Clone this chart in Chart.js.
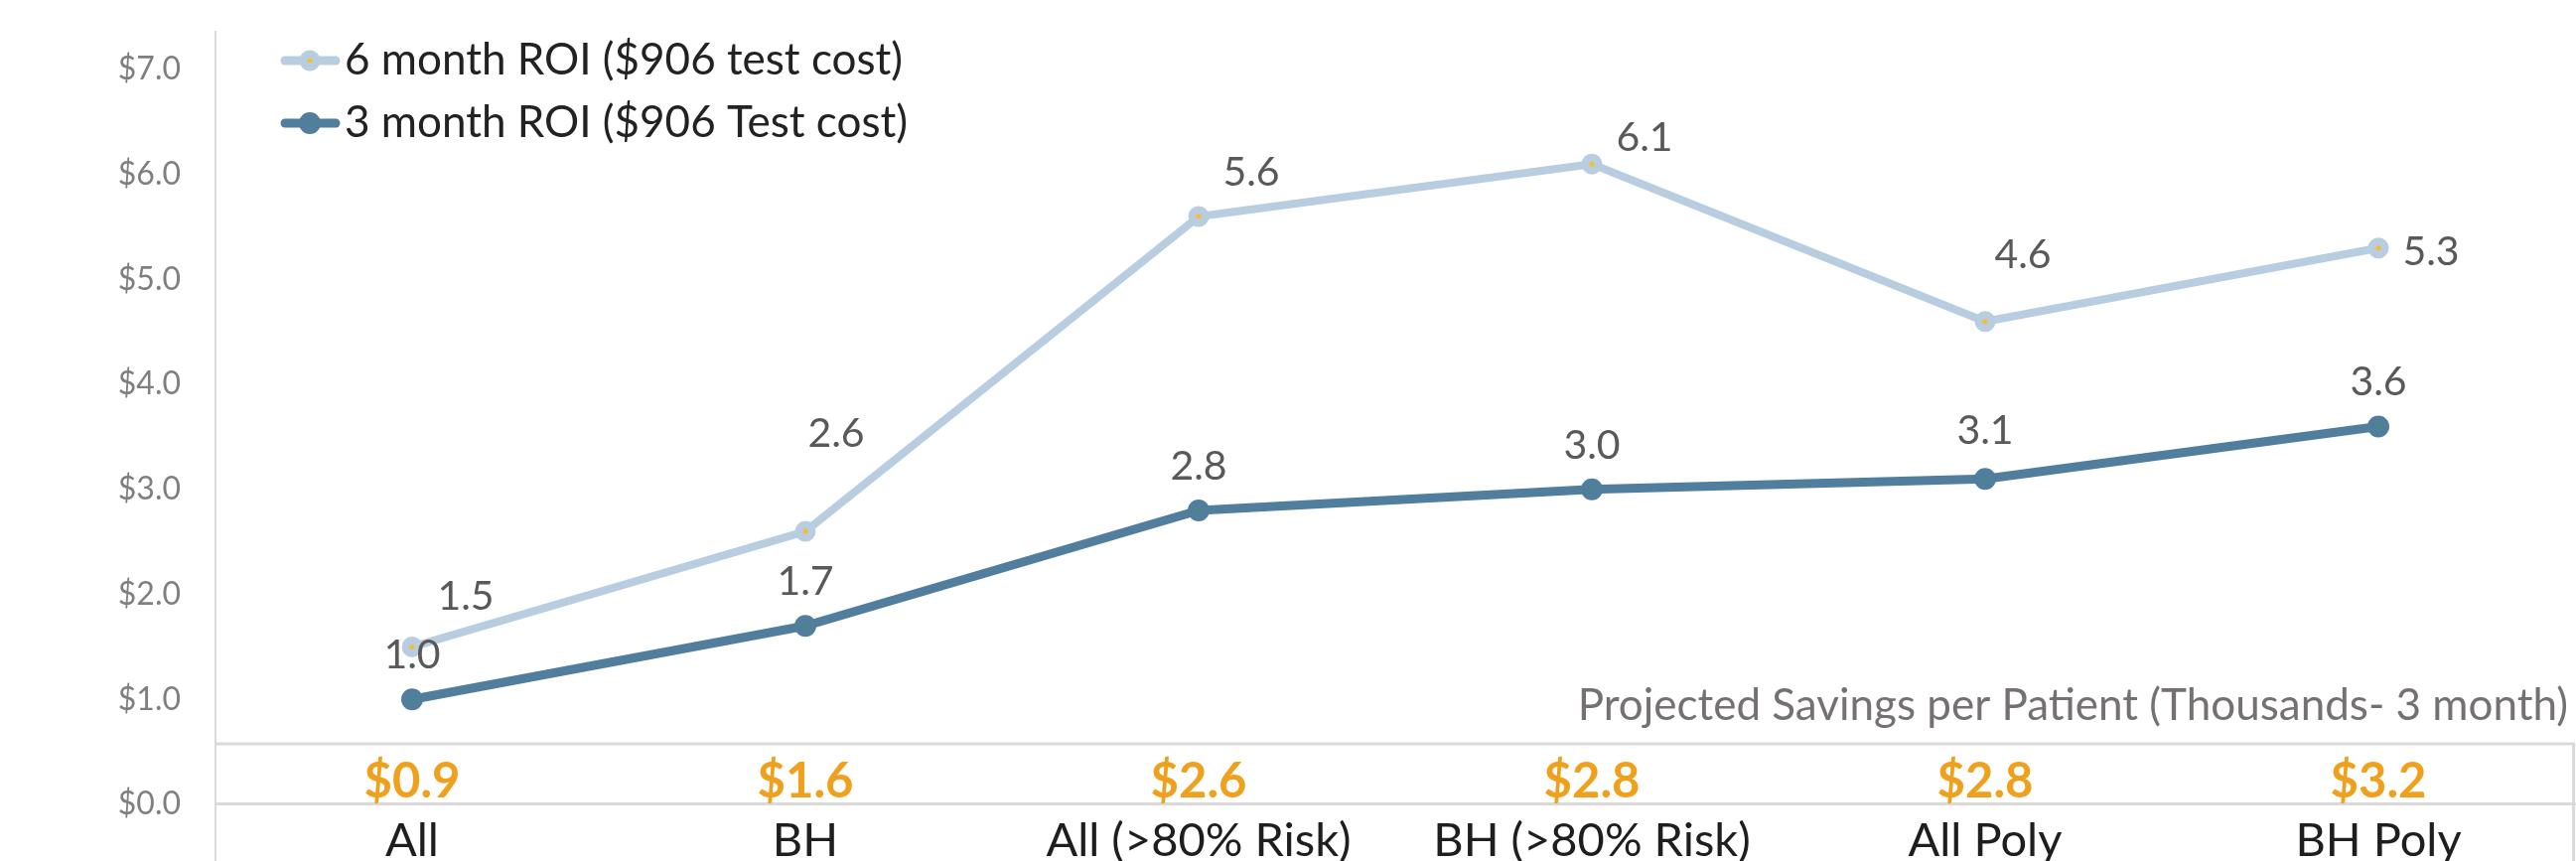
<!DOCTYPE html>
<html>
<head>
<meta charset="utf-8">
<script src="https://cdn.jsdelivr.net/npm/chart.js@4.4.1/dist/chart.umd.min.js"></script>
<style>
  html, body { margin: 0; padding: 0; background: #fff; overflow: hidden; }
  #wrap { width: 2594px; height: 867px; }
</style>
</head>
<body>
<div id="wrap"><canvas id="roi-chart" width="2594" height="867"></canvas></div>
<script>
var categories = ['All', 'BH', 'All (>80% Risk)', 'BH (>80% Risk)', 'All Poly', 'BH Poly'];
var roi6Month = [1.5, 2.6, 5.6, 6.1, 4.6, 5.3];
var roi3Month = [1.0, 1.7, 2.8, 3.0, 3.1, 3.6];
var savings3Month = [0.9, 1.6, 2.6, 2.8, 2.8, 3.2];
var yTicks = [0, 1, 2, 3, 4, 5, 6, 7];
var seriesNames = ['6 month ROI ($906 test cost)', '3 month ROI ($906 Test cost)'];
var savingsTitle = 'Projected Savings per Patient (Thousands- 3 month)';

// label nudges (the original labels were placed by hand)
var labelShift = [
  [[54, -52], [31, -100], [53, -46], [53, -28], [38, -69], [53, 2]],
  [[0, -46], [0, -46], [0, -46], [0, -46], [0, -50], [0, -46]]
];

var FONT = 'Lato';

/// PLUGIN: labels, savings row, legend ///

var extras = {
  id: 'extras',
  afterDraw: function(chart) {
    var ctx = chart.ctx;
    var xs = chart.scales.x;
    var ys = chart.scales.y;
    var area = chart.chartArea;
    var y0 = ys.getPixelForValue(0);

    ctx.save();

    // savings table lines
    ctx.strokeStyle = '#D9D9D9';
    ctx.lineWidth = 3;
    ctx.beginPath();
    ctx.moveTo(area.left, y0 - 61);
    ctx.lineTo(area.right, y0 - 61);
    ctx.moveTo(area.right - 1.5, y0 - 61);
    ctx.lineTo(area.right - 1.5, chart.height);
    ctx.stroke();

    // savings title
    ctx.fillStyle = '#767171';
    ctx.font = '44px ' + FONT;
    ctx.textAlign = 'right';
    ctx.textBaseline = 'alphabetic';
    ctx.fillText(savingsTitle, area.right - 7, y0 - 85);

    // savings values
    ctx.fillStyle = '#EFA11D';
    ctx.font = 'bold 49px ' + FONT;
    ctx.textAlign = 'center';
    savings3Month.forEach(function(v, i) {
      ctx.fillText('$' + v.toFixed(1), xs.getPixelForValue(i), y0 - 7);
    });

    // point labels
    ctx.fillStyle = '#595959';
    ctx.font = '41px ' + FONT;
    chart.data.datasets.forEach(function(ds, di) {
      var meta = chart.getDatasetMeta(di);
      meta.data.forEach(function(pt, i) {
        var sh = labelShift[di][i];
        ctx.fillText(ds.data[i].toFixed(1), pt.x + sh[0], pt.y + sh[1] + 15);
      });
    });

    // legend
    var rows = [75, 138];
    chart.data.datasets.forEach(function(ds, di) {
      var base = rows[di];
      var cy = base - 14;
      ctx.strokeStyle = ds.borderColor;
      ctx.lineWidth = 9;
      ctx.lineCap = 'round';
      ctx.beginPath();
      ctx.moveTo(287, cy);
      ctx.lineTo(338, cy);
      ctx.stroke();
      ctx.beginPath();
      ctx.arc(312, cy, ds.pointRadius, 0, Math.PI * 2);
      ctx.fillStyle = ds.pointBackgroundColor;
      ctx.fill();
      ctx.lineWidth = ds.pointBorderWidth;
      ctx.strokeStyle = ds.pointBorderColor;
      ctx.stroke();
      ctx.fillStyle = '#222222';
      ctx.font = '44px ' + FONT;
      ctx.textAlign = 'left';
      ctx.fillText(ds.label, 347, base);
    });

    ctx.restore();
  }
};

/// CHART ///

var ctx = document.getElementById('roi-chart').getContext('2d');
var roiChart = new Chart(ctx, {
  type: 'line',
  data: {
    labels: categories,
    datasets: [
      {
        label: seriesNames[0],
        data: roi6Month,
        borderColor: '#B9CDE0',
        borderWidth: 8,
        pointRadius: 6.5,
        pointBorderWidth: 8,
        pointBackgroundColor: '#F6BE2C',
        pointBorderColor: '#B9CDE0',
        borderJoinStyle: 'round',
        tension: 0
      },
      {
        label: seriesNames[1],
        data: roi3Month,
        borderColor: '#517E9C',
        borderWidth: 9,
        pointRadius: 6.5,
        pointBorderWidth: 9,
        pointBackgroundColor: '#3F8F76',
        pointBorderColor: '#517E9C',
        borderJoinStyle: 'round',
        tension: 0
      }
    ]
  },
  options: {
    responsive: false,
    animation: false,
    layout: {
      autoPadding: false,
      padding: { top: 32, right: 1, bottom: 0, left: 0 }
    },
    plugins: {
      legend: { display: false },
      tooltip: { enabled: false }
    },
    scales: {
      x: {
        type: 'category',
        offset: true,
        position: { y: 0 },
        grid: { display: false, drawTicks: false },
        border: { display: true, color: '#D9D9D9', width: 3 },
        ticks: {
          color: '#1E1E1E',
          font: { family: FONT, size: 47 },
          padding: 9,
          maxRotation: 0,
          autoSkip: false
        }
      },
      y: {
        min: -0.54,
        max: 7.36,
        grid: { display: false, drawTicks: false },
        border: { color: '#D9D9D9', width: 2 },
        afterBuildTicks: function(scale) {
          scale.ticks = yTicks.map(function(v) { return { value: v }; });
        },
        afterFit: function(scale) {
          scale.width = 217;
          scale.paddingTop = 0;
          scale.paddingBottom = 0;
        },
        ticks: {
          padding: 35,
          color: '#7F7F7F',
          font: { family: FONT, size: 32, lineHeight: 0.01 },
          callback: function(v) { return '$' + Number(v).toFixed(1); }
        }
      }
    }
  },
  plugins: [extras]
});
</script>
</body>
</html>
